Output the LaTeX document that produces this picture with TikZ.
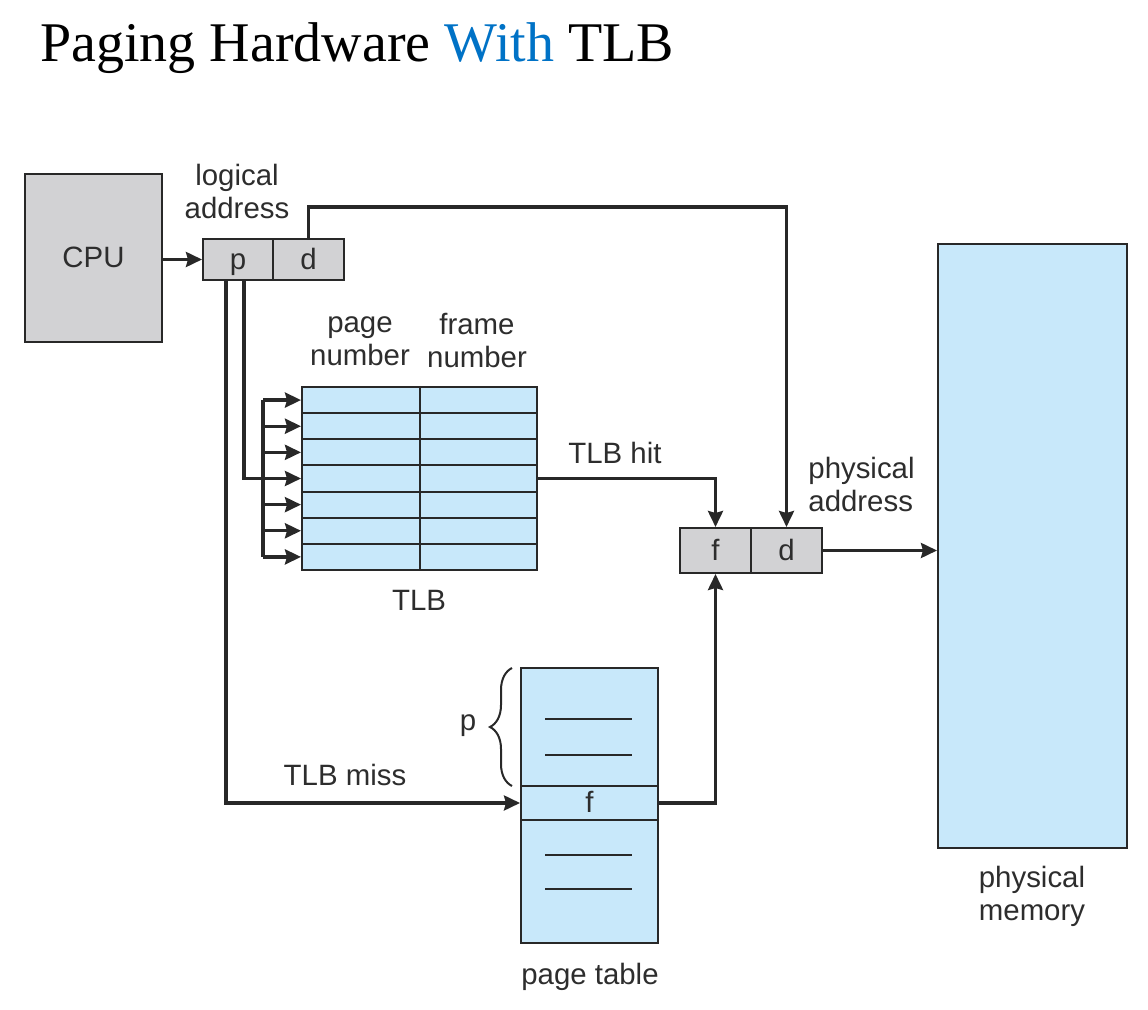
\documentclass[tikz,border=0pt]{standalone}
\usepackage{fontspec}
\setmainfont{Liberation Serif}
\setsansfont{Liberation Sans}
\usetikzlibrary{arrows.meta,decorations.pathreplacing}
\definecolor{gfill}{RGB}{210,210,212}
\definecolor{bfill}{RGB}{200,232,250}
\definecolor{ln}{RGB}{40,40,40}
\definecolor{txt}{RGB}{45,45,45}
\definecolor{ttlblue}{RGB}{0,114,198}
\begin{document}
\begin{tikzpicture}[x=0.5pt,y=-0.5pt,
  lab/.style={font=\sffamily\fontsize{14.7}{16.5}\selectfont, text=txt, inner sep=0pt, align=center},
  boxtxt/.style={lab, text height=13pt, text depth=3pt},
  graybox/.style={draw=ln, line width=1pt, fill=gfill, inner sep=0pt},
  bluebox/.style={draw=ln, line width=1pt, fill=bfill, inner sep=0pt},
  wire/.style={draw=ln, line width=1.6pt},
  thin/.style={draw=ln, line width=1pt},
  arr/.style={wire, -{Stealth[length=8pt,width=7.5pt,inset=1pt]}},
]
\useasboundingbox (0,0) rectangle (1148,1010);
\node[anchor=base west, inner sep=0pt, font=\rmfamily\fontsize{28}{30}\selectfont] (title) at (40,62) {Paging Hardware \textcolor{ttlblue}{With} TLB};

% CPU and logical address
\node[graybox, boxtxt, minimum width=68.5pt, minimum height=84pt] (cpu) at (93.5,258) {CPU};
\node[graybox, boxtxt, minimum width=35pt, minimum height=20.5pt] (lap) at (238,259.5) {p};
\node[graybox, boxtxt, minimum width=35.5pt, minimum height=20.5pt] (lad) at (308.5,259.5) {d};
\node[lab] (lalab) at (237,191) {logical\\address};

% TLB
\node[bluebox, minimum width=117.5pt, minimum height=91.5pt] (tlb) at (419.5,478.5) {};
\draw[thin] (tlb.north) -- (tlb.south);
\foreach \k in {1,...,6} \draw[thin] (302,{387+26.142857*\k}) -- (537,{387+26.142857*\k});
\node[lab] (pnlab) at (360,341) {page\\number};
\node[lab] (fnlab) at (477,341) {frame\\number};
\node[lab] (tlblab) at (419,600) {TLB};

% physical address
\node[graybox, boxtxt, minimum width=35.5pt, minimum height=22.5pt] (paf) at (715.5,550.5) {f};
\node[graybox, boxtxt, minimum width=35.5pt, minimum height=22.5pt] (pad) at (786.5,550.5) {d};
\node[lab, align=left, anchor=west] (palab) at (808,484) {physical\\address};

% physical memory
\node[bluebox, minimum width=94.5pt, minimum height=302pt] (mem) at (1032.5,546) {};
\node[lab] (memlab) at (1032,896) {physical\\memory};

% page table
\node[bluebox, minimum width=68.5pt, minimum height=137.5pt] (pt) at (589.5,805.5) {};
\node[bluebox, boxtxt, minimum width=68.5pt, minimum height=17pt] (ptf) at (589.5,803) {f};
\foreach \yy in {719,755,855,889} \draw[thin] (545,\yy) -- (632,\yy);
\node[lab] (ptlab) at (590,977) {page table};
\draw[thin, decorate, decoration={brace, amplitude=11pt}] (512,786) -- (512,668);
\node[lab] (plab) at (468,726) {p};

% connectors
\coordinate (dtop) at (0,207);
\coordinate (bustop) at (263,400.07);
\coordinate (busbot) at (263,556.93);
\draw[arr] (cpu.east |- lap.west) -- (lap.west);
\draw[arr] (lad.north) -- (lad.north |- dtop) -| (pad.north);
\draw[wire] ([xshift=3pt]lap.south) |- (263,478.5);
\draw[wire] (bustop) -- (busbot);
\foreach \k in {0,...,6} {
  \coordinate (rowpt) at (263,{400.07+26.142857*\k});
  \draw[arr] (rowpt) -- (tlb.west |- rowpt);
}
\draw[arr] ([xshift=-6pt]lap.south) |- (ptf.west);
\node[lab] (misslab) at (345,775) {TLB miss};
\draw[arr] (tlb.east) -| (paf.north);
\node[lab] (hitlab) at (615,453) {TLB hit};
\draw[arr] (ptf.east) -| (paf.south);
\draw[arr] (pad.east) -- (mem.west |- pad.east);
\end{tikzpicture}
\end{document}
